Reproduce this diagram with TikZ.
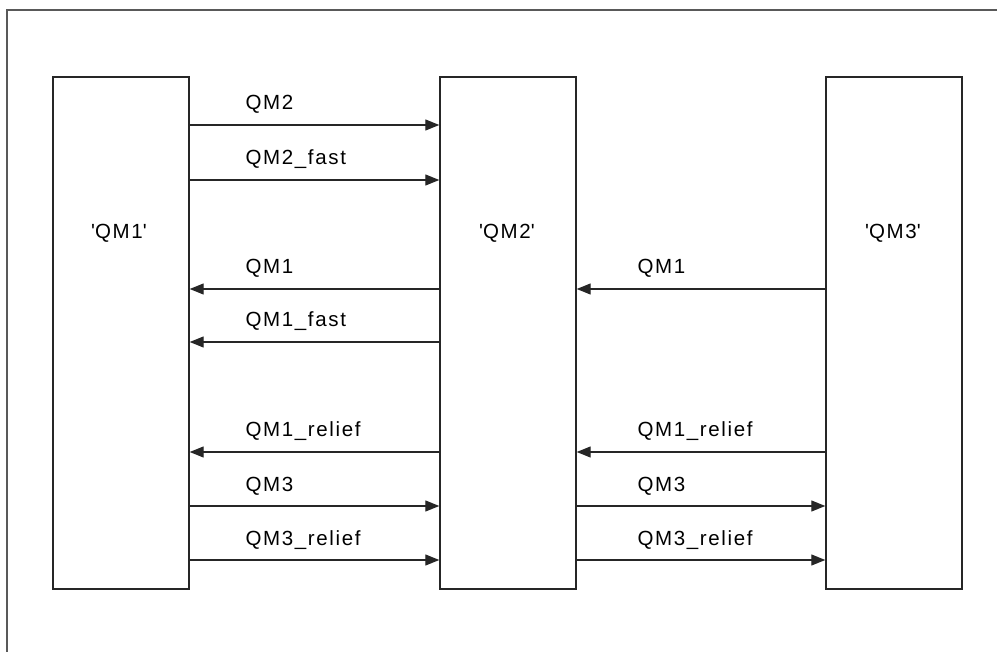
\documentclass[tikz,border=0pt]{standalone}
\usepackage{fontspec}
\setmainfont{Liberation Sans}[LetterSpace=8]
\usetikzlibrary{positioning, arrows.meta}

\begin{document}
\begin{tikzpicture}[x=1pt, y=-1pt,
  qmbox/.style={rectangle, draw=black!85, line width=1.4pt, minimum width=136pt,
                minimum height=512pt, inner sep=0pt},
  link/.style={draw=black!85, line width=1.2pt,
               -{Triangle[length=14pt, width=11pt]}},
  lbl/.style={anchor=base west, inner sep=0pt},
  every node/.style={font=\fontsize{20.5}{24}\selectfont}
]
  \useasboundingbox (0,0) rectangle (997,652);
  \draw[black!65, line width=1.4pt] (7,652) -- (7,10) -- (997,10);
  \node[qmbox] (qm1) at (121,333) {};
  \node[qmbox] (qm2) at (508,333) {};
  \node[qmbox] (qm3) at (894,333) {};
  \node (qm1-name) at (119,233) {\textquotesingle QM1\textquotesingle};
  \node (qm2-name) at (507,233) {\textquotesingle QM2\textquotesingle};
  \node (qm3-name) at (893,233) {\textquotesingle QM3\textquotesingle};
  \foreach \y/\txt in {125/QM2, 180/QM2\_fast, 506/QM3, 560/QM3\_relief}
    \draw[link] (qm1.east |- 0,\y) -- (qm2.west |- 0,\y)
      node[lbl] at (245,\y-15) {\txt};
  \foreach \y/\txt in {289/QM1, 342/QM1\_fast, 452/QM1\_relief}
    \draw[link] (qm2.west |- 0,\y) -- (qm1.east |- 0,\y)
      node[lbl] at (245,\y-15) {\txt};
  \foreach \y/\txt in {289/QM1, 452/QM1\_relief}
    \draw[link] (qm3.west |- 0,\y) -- (qm2.east |- 0,\y)
      node[lbl] at (637,\y-15) {\txt};
  \foreach \y/\txt in {506/QM3, 560/QM3\_relief}
    \draw[link] (qm2.east |- 0,\y) -- (qm3.west |- 0,\y)
      node[lbl] at (637,\y-15) {\txt};
\end{tikzpicture}
\end{document}
